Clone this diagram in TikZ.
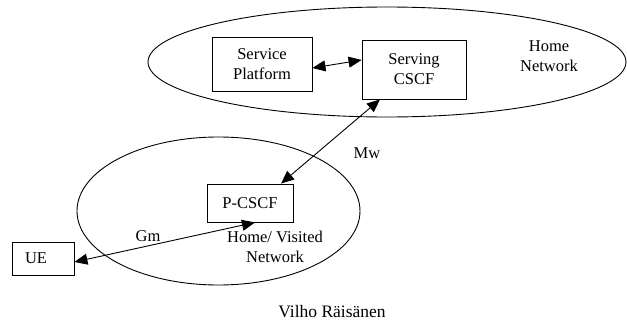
\documentclass[tikz,border=0pt]{standalone}
\usepackage{fontspec}
\setmainfont{Liberation Serif}
\usetikzlibrary{arrows.meta}
\begin{document}
\begin{tikzpicture}[x=1pt,y=-1pt,
  every node/.style={font=\fontsize{16.5}{20}\selectfont, align=center},
  box/.style={draw, line width=0.9pt, inner sep=0pt},
  conn/.style={line width=0.9pt, {Triangle[length=13pt,width=11pt]}-{Triangle[length=13pt,width=11pt]}},
  netline/.style={line width=0.9pt}]
\useasboundingbox (0,0) rectangle (627,324);
% networks
\draw[netline] (387,62) ellipse [x radius=239, y radius=55];
\draw[netline] (218.5,211) ellipse [x radius=141.5, y radius=74];
% boxes
\node[box, minimum width=100pt, minimum height=54pt] (SP) at (262,64) {Service\\Platform};
\node[box, minimum width=104pt, minimum height=59pt] (SC) at (414,69.5) {Serving\\CSCF};
\node[box, minimum width=86pt, minimum height=38pt] (PC) at (250,203) {P-CSCF};
\node[box, minimum width=62pt, minimum height=33pt] (UE) at (43,258.5) {UE\hspace{14pt}};
% labels
\node (home) at (549,56) {Home\\Network};
\node (visited) at (275,246.5) {Home/ Visited\\Network};
\node (mw) at (367,153) {Mw};
\node (gm) at (148,236) {Gm};
\node[font=\fontsize{17.5}{20}\selectfont] (author) at (332,312) {Vilho Räisänen};
% connectors
\draw[conn] ([yshift=-4pt]SP.east) -- ([yshift=9.5pt]SC.west);
\draw[conn] ([xshift=-34pt]SC.south) -- ([xshift=31pt]PC.north);
\draw[conn] ([yshift=-3.5pt]UE.east) -- ([xshift=5pt]PC.south);
\end{tikzpicture}
\end{document}
